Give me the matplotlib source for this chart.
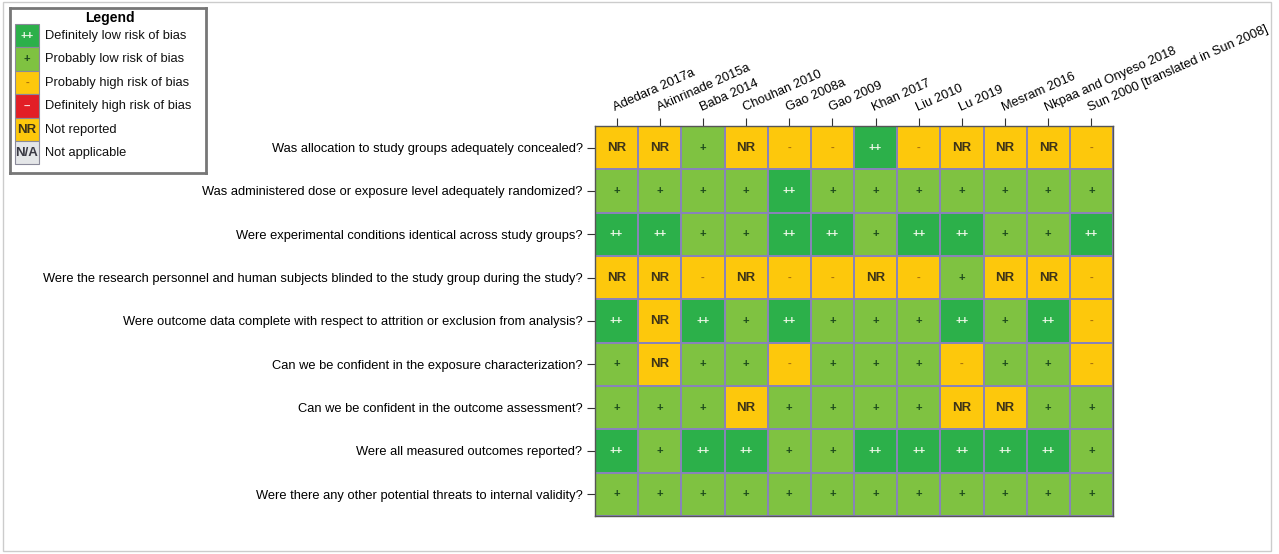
import numpy as np
import matplotlib.pyplot as plt
from matplotlib.colors import ListedColormap
from matplotlib.patches import Rectangle

plt.rcParams["font.family"] = ["Liberation Sans", "DejaVu Sans"]

studies = [
    "Adedara 2017a", "Akinrinade 2015a", "Baba 2014", "Chouhan 2010",
    "Gao 2008a", "Gao 2009", "Khan 2017", "Liu 2010", "Lu 2019",
    "Mesram 2016", "Nkpaa and Onyeso 2018", "Sun 2000 [translated in Sun 2008]",
]
questions = [
    "Was allocation to study groups adequately concealed?",
    "Was administered dose or exposure level adequately randomized?",
    "Were experimental conditions identical across study groups?",
    "Were the research personnel and human subjects blinded to the study group during the study?",
    "Were outcome data complete with respect to attrition or exclusion from analysis?",
    "Can we be confident in the exposure characterization?",
    "Can we be confident in the outcome assessment?",
    "Were all measured outcomes reported?",
    "Were there any other potential threats to internal validity?",
]
ratings = [
    ["NR", "NR", "+", "NR", "-", "-", "++", "-", "NR", "NR", "NR", "-"],
    ["+", "+", "+", "+", "++", "+", "+", "+", "+", "+", "+", "+"],
    ["++", "++", "+", "+", "++", "++", "+", "++", "++", "+", "+", "++"],
    ["NR", "NR", "-", "NR", "-", "-", "NR", "-", "+", "NR", "NR", "-"],
    ["++", "NR", "++", "+", "++", "+", "+", "+", "++", "+", "++", "-"],
    ["+", "NR", "+", "+", "-", "+", "+", "+", "-", "+", "+", "-"],
    ["+", "+", "+", "NR", "+", "+", "+", "+", "NR", "NR", "+", "+"],
    ["++", "+", "++", "++", "+", "+", "++", "++", "++", "++", "++", "+"],
    ["+"] * 12,
]

codes = ["++", "+", "-", "--", "NR", "N/A"]
code_labels = [
    "Definitely low risk of bias", "Probably low risk of bias",
    "Probably high risk of bias", "Definitely high risk of bias",
    "Not reported", "Not applicable",
]
fill = {"++": "#2cb04a", "+": "#7fc241", "-": "#fdc80c", "--": "#e21f26",
        "NR": "#fdc80c", "N/A": "#e4e6e8"}
ink = {"++": "#eef8e8", "+": "#1c4a1c", "-": "#a8700c", "--": "#f8dede",
       "NR": "#3e3418", "N/A": "#3a3a44"}
grid_col = "#8883b8"


def sym_style(c):
    if c in ("NR", "N/A"):
        return dict(fontsize=9.5, fontweight="bold")
    return dict(fontsize=8, fontweight="bold")


fig = plt.figure(figsize=(12.79, 5.54), dpi=100)
fig.patches.append(Rectangle((0.002, 0.006), 0.992, 0.99, transform=fig.transFigure,
                             fill=False, edgecolor="#cccccc", lw=1))

# main grid
ax = fig.add_axes([595 / 1279, 1 - 516 / 554, 518 / 1279, 390 / 554])
idx = np.array([[codes.index(v) for v in row] for row in ratings])
cmap = ListedColormap([fill[c] for c in codes])
ax.pcolormesh(np.arange(len(studies) + 1), np.arange(len(questions) + 1), idx,
              cmap=cmap, vmin=-0.5, vmax=len(codes) - 0.5,
              edgecolors=grid_col, linewidth=1.2)
for i, row in enumerate(ratings):
    for j, v in enumerate(row):
        ax.text(j + 0.5, i + 0.5, v, ha="center", va="center", color=ink[v], **sym_style(v))
ax.set_xlim(0, len(studies))
ax.set_ylim(len(questions), 0)
ax.xaxis.tick_top()
ax.set_xticks(np.arange(len(studies)) + 0.5)
ax.set_xticklabels(studies, rotation=24, ha="left", va="bottom",
                   rotation_mode="anchor", fontsize=9.3)
ax.set_yticks(np.arange(len(questions)) + 0.5)
ax.set_yticklabels(questions, fontsize=9.3)
ax.tick_params(axis="both", length=6, width=0.8, color="#333333", pad=3)
for s in ax.spines.values():
    s.set_color("#555555")
    s.set_linewidth(1)

# legend box
lg = fig.add_axes([10 / 1279, 1 - 173 / 554, 196 / 1279, 165 / 554])
lg.set_xlim(0, 196)
lg.set_ylim(165, 0)
lg.set_xticks([])
lg.set_yticks([])
for s in lg.spines.values():
    s.set_color("#777777")
    s.set_linewidth(2)
lg.text(100, 10, "Legend", ha="center", va="center", fontsize=10, fontweight="bold")
for k, (c, lab) in enumerate(zip(codes, code_labels)):
    y0 = 16 + k * 23.4
    lg.add_patch(Rectangle((5, y0), 24, 23.4, facecolor=fill[c], edgecolor="#8a8a9a", lw=0.8))
    lg.text(17, y0 + 12, c, ha="center", va="center", color=ink[c], **sym_style(c))
    lg.text(35, y0 + 12, lab, ha="left", va="center", fontsize=9.3, color="#111111")

fig.savefig("out.png", dpi=100)
